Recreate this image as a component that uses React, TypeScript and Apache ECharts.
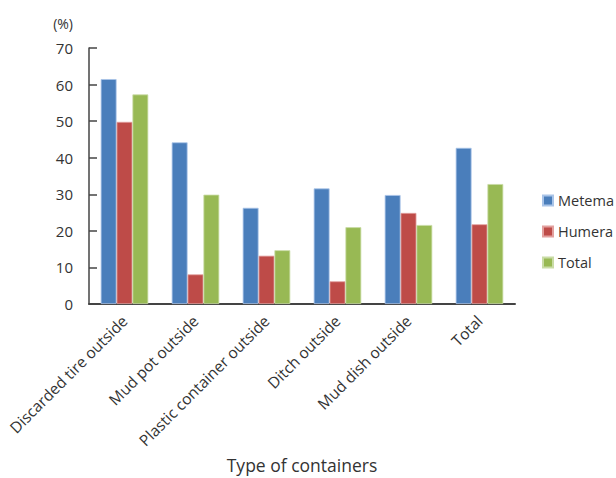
import React, { useEffect, useRef } from "react";
import * as echarts from "echarts";

const categories = [
  "Discarded tire outside",
  "Mud pot outside",
  "Plastic container outside",
  "Ditch outside",
  "Mud dish outside",
  "Total",
];
const metema = [61.5, 44.2, 26.3, 31.6, 29.8, 42.7];
const humera = [49.8, 8.1, 13.2, 6.2, 24.9, 21.8];
const total = [57.3, 29.9, 14.7, 21.0, 21.6, 32.8];
const seriesNames = ["Metema", "Humera", "Total"];
const colors = ["#4a7ebb", "#be4b48", "#98b954"];
const borderColors = ["#a9c4e8", "#e2a09e", "#c9dca6"];

const FONT = "Open Sans";

export default function App() {
  const ref = useRef<HTMLDivElement>(null);
  useEffect(() => {
    document.body.style.margin = "0";
    const chart = echarts.init(ref.current!, undefined, { renderer: "svg" });
    const data = [metema, humera, total];
    chart.setOption({
      animation: false,
      textStyle: { fontFamily: FONT, color: "#333" },
      grid: { left: 89, right: 101, top: 48, bottom: 174, containLabel: false, outerBoundsMode: "none" },
      legend: {
        orient: "vertical",
        left: 537,
        top: 188,
        itemWidth: 10,
        itemHeight: 10,
        itemGap: 16,
        icon: "rect",
        textStyle: { fontFamily: FONT, fontSize: 14.5, color: "#333" },
        data: seriesNames,
      },
      xAxis: {
        type: "category",
        data: categories,
        name: "Type of containers",
        nameLocation: "middle",
        nameGap: 152,
        nameTextStyle: { fontFamily: FONT, fontSize: 17.5, color: "#333" },
        axisLine: { lineStyle: { color: "#444", width: 2 } },
        axisTick: { show: false },
        axisLabel: { rotate: 45, fontSize: 15.5, color: "#333", margin: 14, fontFamily: FONT },
      },
      yAxis: {
        type: "value",
        min: 0,
        max: 70,
        interval: 10,
        name: "(%)",
        nameLocation: "end",
        nameGap: 18,
        nameTextStyle: { fontFamily: FONT, fontSize: 14, color: "#333", align: "right", padding: [0, 16, 0, 0] },
        axisLine: { show: true, lineStyle: { color: "#444", width: 1.5 } },
        axisTick: { show: true, inside: true, length: 8, lineStyle: { color: "#444", width: 1.5 } },
        splitLine: { show: false },
        axisLabel: { fontSize: 15, color: "#333", margin: 16, fontFamily: FONT },
      },
      series: seriesNames.map((n, i) => ({
        name: n,
        type: "bar",
        data: data[i],
        barGap: "0%",
        barCategoryGap: "33%",
        itemStyle: { color: colors[i], borderColor: borderColors[i], borderWidth: 0.8 },
      })),
    });
    return () => chart.dispose();
  }, []);
  return <div ref={ref} style={{ width: 616, height: 478 }} />;
}
